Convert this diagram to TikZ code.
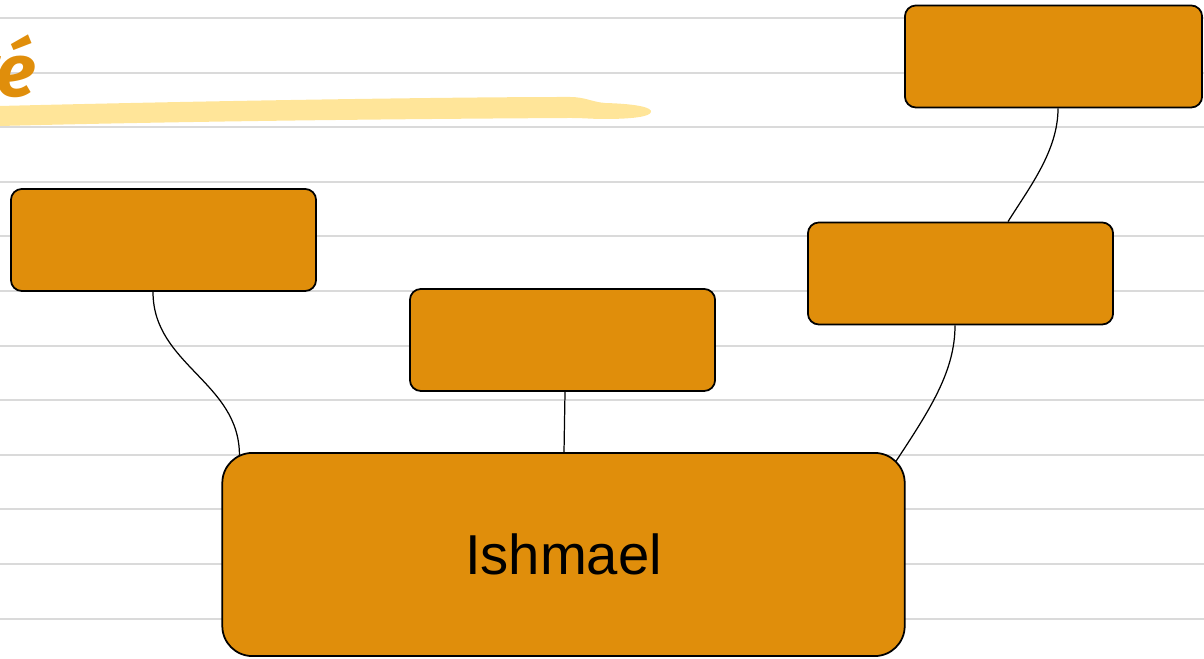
\documentclass[tikz,border=0pt]{standalone}
\usepackage{fontspec}
\setmainfont{Liberation Sans}
\newfontfamily\titlefont{Fira Sans}
\usetikzlibrary{positioning}
\usetikzlibrary{calc}
\definecolor{ishorange}{HTML}{E08E0B}
\definecolor{marker}{HTML}{FFE599}
\definecolor{ruleline}{HTML}{DADADA}

\begin{document}
\begin{tikzpicture}[x=0.01cm,y=-0.01cm,
    box/.style={draw=black,line width=0.5pt,fill=ishorange,rounded corners=0.11cm,
        minimum width=3.05cm,minimum height=1.02cm,inner sep=0pt},
    link/.style={draw=black,line width=0.35pt}]
    \useasboundingbox (0,0) rectangle (1204,659);
    \clip (0,0) rectangle (1204,659);
    % ruled paper
    \foreach \k in {0,...,11}
        \draw[ruleline,line width=0.6pt] (0,18+54.6*\k) -- (1204,18+54.6*\k);
    % title
    \fill[marker] (0,106) .. controls (200,101) and (450,97) .. (570,97)
        .. controls (585,97) and (592,102) .. (605,103)
        .. controls (640,104) and (652,108) .. (651,112)
        .. controls (650,117) and (630,119) .. (605,119)
        .. controls (590,119) and (585,118) .. (570,118)
        .. controls (400,119) and (200,121) .. (0,126) -- cycle;
    \node[anchor=base east,text=ishorange,inner sep=0pt,
        font=\titlefont\bfseries\itshape\fontsize{21}{25}\selectfont] (title) at (36,97) {ré};
    % boxes
    \node[box] (leftbox) at (163.5,240) {};
    \node[box] (midbox) at (562.5,340) {};
    \node[box] (rightbox) at (960.5,273.5) {};
    \node[box,minimum width=2.97cm] (topbox) at (1053.5,56.5) {};
    \node[box,rounded corners=0.3cm,minimum width=6.82cm,minimum height=2.03cm,
        font=\fontsize{16}{19}\selectfont] (ishmael) at (563.5,554.5) {Ishmael};
    % links
    \coordinate (la) at ($(leftbox.south)+(-10.5,0)$);
    \coordinate (lb) at ($(ishmael.north west)+(18,3)$);
    \draw[link] (la) .. controls ($(la)+(0,73)$) and ($(lb)+(0,-73)$) .. (lb);
    \draw[link] ($(midbox.south)+(2.5,0)$) -- ($(ishmael.north)+(0.5,0)$);
    \coordinate (ra) at ($(rightbox.south)+(-5.5,0)$);
    \coordinate (rb) at ($(ishmael.north east)+(-9.5,9)$);
    \draw[link] (ra) .. controls ($(ra)+(0,45)$) and ($(rb)+(35,-53)$) .. (rb);
    \coordinate (ta) at ($(topbox.south)+(4.5,0)$);
    \coordinate (tb) at ($(rightbox.north)+(47.5,0)$);
    \draw[link] (ta) .. controls ($(ta)+(0,42)$) and ($(tb)+(22,-35)$) .. (tb);
\end{tikzpicture}
\end{document}
